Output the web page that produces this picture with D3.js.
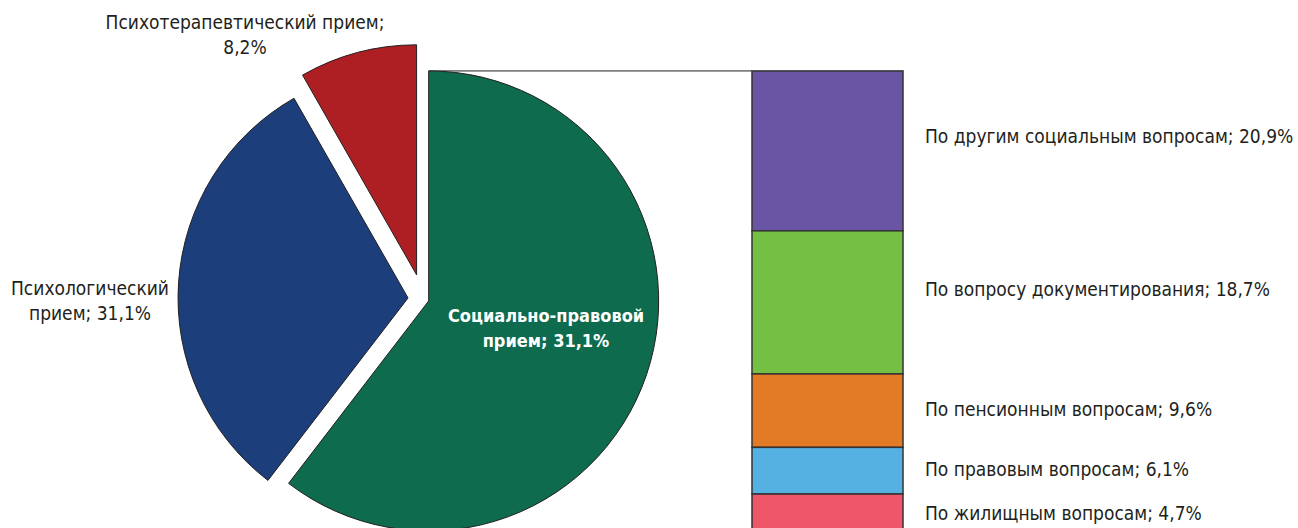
<!DOCTYPE html>
<html>
<head>
<meta charset="utf-8">
<script src="https://cdn.jsdelivr.net/npm/d3@7"></script>
<style>
  body { margin: 0; background: #fff; }
  text { font-family: "Liberation Sans Narrow", "DejaVu Sans Condensed", "Roboto Condensed", sans-serif; fill: #231f20; }
</style>
</head>
<body>
<div id="chart"></div>
<script>
// pie data
const pieNames = ["Социально-правовой прием", "Психологический прием", "Психотерапевтический прием"];
const pieValues = [60.0, 31.1, 8.2];
const pieLabels = [["Социально-правовой", "прием; 31,1%"], ["Психологический", "прием; 31,1%"], ["Психотерапевтический прием;", "8,2%"]];

// bar (breakdown of the first slice)
const barNames = ["По другим социальным вопросам", "По вопросу документирования", "По пенсионным вопросам", "По правовым вопросам", "По жилищным вопросам"];
const barValues = [20.9, 18.7, 9.6, 6.1, 4.7];
const barLabels = ["20,9%", "18,7%", "9,6%", "6,1%", "4,7%"];

// layout / styles
const width = 1298, height = 528;
const cx = 423, cy = 299, radius = 230;
const explode = [6, 15, 25];
const pieColors = ["#0e6b4e", "#1c3f7c", "#ae1f24"];
const barColors = ["#6955a3", "#74bf44", "#e27a26", "#56b1e3", "#f0566a"];
const pieLabelPos = [[546, 322], [90, 295], [245, 29]];
const barLabelNudge = [-13, -12, 0, 0, 2];

const svg = d3.select("#chart")
  .append("svg")
    .attr("width", width)
    .attr("height", height);

// pie
const arcs = d3.pie().sort(null).value(d => d)(pieValues);
const arc = d3.arc().innerRadius(0).outerRadius(radius);

function offset(a, i) {
  const mid = (a.startAngle + a.endAngle) / 2;
  return [cx + Math.sin(mid) * explode[i], cy - Math.cos(mid) * explode[i]];
}

// bar scale
const g0 = offset(arcs[0], 0);
const y = d3.scaleLinear()
  .domain([0, d3.sum(barValues)])
  .range([g0[1] - radius, height + 2]);
const barX = 752, barW = 151;

// connector line from top of split slice to top of bar
svg.append("line")
  .attr("x1", g0[0]).attr("y1", g0[1] - radius)
  .attr("x2", barX).attr("y2", y(0))
  .attr("stroke", "#231f20").attr("stroke-width", 1);

svg.selectAll(".slice")
  .data(arcs)
  .join("path")
    .attr("class", "slice")
    .attr("transform", (d, i) => `translate(${offset(d, i)})`)
    .attr("d", arc)
    .attr("fill", (d, i) => pieColors[i])
    .attr("stroke", "#231f20")
    .attr("stroke-width", 1);

// pie labels
pieLabels.forEach((lines, i) => {
  const t = svg.append("text")
    .attr("x", pieLabelPos[i][0]).attr("y", pieLabelPos[i][1])
    .attr("text-anchor", "middle")
    .style("font-size", i === 0 ? "18px" : "19px");
  if (i === 0) t.style("fill", "#fff").style("font-weight", "bold");
  lines.forEach((s, j) => {
    t.append("tspan").attr("x", pieLabelPos[i][0]).attr("dy", j === 0 ? 0 : 25).text(s);
  });
});

// stacked bar
let acc = 0;
const stack = barValues.map(v => { const s = { y0: acc, y1: acc + v }; acc += v; return s; });

svg.selectAll(".seg")
  .data(stack)
  .join("rect")
    .attr("class", "seg")
    .attr("x", barX)
    .attr("y", d => y(d.y0))
    .attr("width", barW)
    .attr("height", d => y(d.y1) - y(d.y0))
    .attr("fill", (d, i) => barColors[i])
    .attr("stroke", "#333")
    .attr("stroke-width", 1.5);

svg.selectAll(".seglabel")
  .data(stack)
  .join("text")
    .attr("class", "seglabel")
    .attr("x", 925)
    .attr("y", (d, i) => (y(d.y0) + y(d.y1)) / 2 + barLabelNudge[i])
    .attr("dominant-baseline", "middle")
    .style("font-size", "19px")
    .text((d, i) => `${barNames[i]}; ${barLabels[i]}`);
</script>
</body>
</html>
